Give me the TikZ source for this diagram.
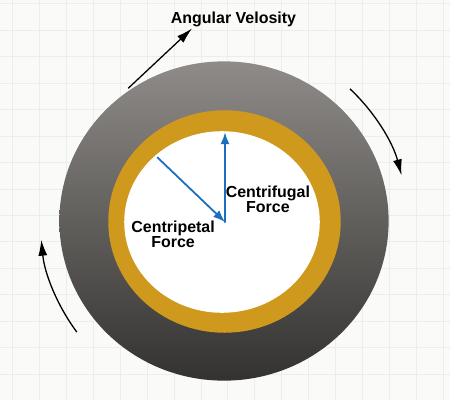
\documentclass[tikz,border=0pt]{standalone}
\usepackage{fontspec}
\setmainfont{Liberation Sans}
\usetikzlibrary{arrows.meta}
\definecolor{paper}{HTML}{FAFAF9}
\definecolor{gridgray}{HTML}{EDEDED}
\definecolor{disktop}{HTML}{8E8B88}
\definecolor{diskbot}{HTML}{343230}
\definecolor{ringgold}{HTML}{CF991D}
\definecolor{forceblue}{HTML}{1C6FBF}
\begin{document}
\begin{tikzpicture}[x=1pt,y=1pt,
        lbl/.style={font=\fontsize{16}{13}\selectfont\bfseries,align=center,inner sep=0pt},
        spin/.style={-{Latex[length=16pt,width=9pt]},line width=1.3pt},
        force/.style={-{Latex[length=12pt,width=9pt]},line width=1.8pt,forceblue}]
    \fill[paper] (0,0) rectangle (450,400);
    \foreach \x in {12,39,...,444}
        \draw[gridgray,line width=1pt] (\x,0) -- (\x,400);
    \foreach \y in {25.5,52,...,400}
        \draw[gridgray,line width=1pt] (0,\y) -- (450,\y);
    % wheel
    \shade[top color=disktop,bottom color=diskbot] (224,179) ellipse [x radius=165,y radius=160];
    \fill[ringgold] (224.5,178.5) ellipse [x radius=116.5,y radius=111.5];
    \fill[white] (222,178) ellipse [x radius=98,y radius=91];
    % forces
    \coordinate (ctr) at (225,178);
    \coordinate (rim) at (225,268);
    \coordinate (pull) at (157,243);
    \draw[force] (ctr) -- (rim);
    \draw[force] (pull) -- (ctr);
    \fill[forceblue] (ctr) circle (1.2pt);
    \node[lbl] (fugal) at (268,201) {Centrifugal\\Force};
    \node[lbl] (petal) at (173,166) {Centripetal\\Force};
    % rotation
    \node[lbl,anchor=base] (omega) at (233.5,377) {Angular Velosity};
    \coordinate (tail) at (128,312);
    \coordinate (head) at (192,372);
    \draw[spin] (tail) -- (head);
    \draw[spin] (ctr) ++(46.8:183) arc[start angle=46.8,end angle=14.8,radius=183];
    \draw[spin] (ctr) ++(216.6:185) arc[start angle=216.6,end angle=185.5,radius=185];
\end{tikzpicture}
\end{document}
